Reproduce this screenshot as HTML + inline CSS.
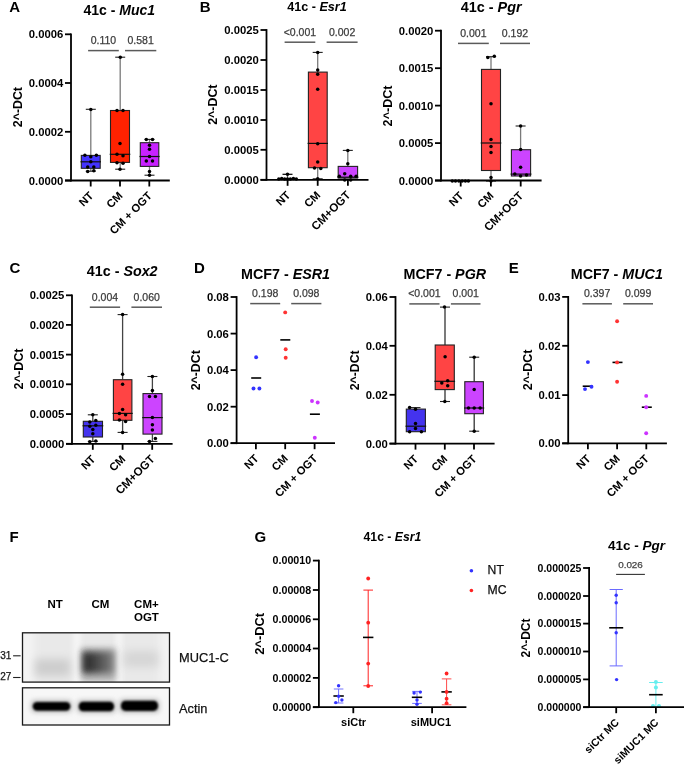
<!DOCTYPE html>
<html><head><meta charset="utf-8"><style>
html,body{margin:0;padding:0;background:#fff;}
body{width:685px;height:764px;overflow:hidden;}
svg{display:block;font-family:"Liberation Sans", sans-serif;filter:blur(0.4px);}
</style></head><body>
<svg width="685" height="764" viewBox="0 0 685 764">
<rect width="685" height="764" fill="#fff"/>
<text x="9.3" y="12.4" font-size="15" font-weight="bold" text-anchor="start" fill="#000">A</text>
<text x="199.8" y="11.8" font-size="15" font-weight="bold" text-anchor="start" fill="#000">B</text>
<text x="9.4" y="272.6" font-size="15" font-weight="bold" text-anchor="start" fill="#000">C</text>
<text x="194" y="272.5" font-size="15" font-weight="bold" text-anchor="start" fill="#000">D</text>
<text x="508.8" y="272.5" font-size="15" font-weight="bold" text-anchor="start" fill="#000">E</text>
<text x="9.4" y="541.8" font-size="15" font-weight="bold" text-anchor="start" fill="#000">F</text>
<text x="254.5" y="541.9" font-size="15" font-weight="bold" text-anchor="start" fill="#000">G</text>
<text x="119.3" y="14.7" font-size="14" font-weight="bold" text-anchor="middle" fill="#000">41c - <tspan font-style="italic">Muc1</tspan></text>
<text x="21.9" y="107.1" font-size="12.35" font-weight="bold" text-anchor="middle" fill="#000" transform="rotate(-90 21.9 107.1)">2^-DCt</text>
<line x1="71" y1="33.4" x2="71" y2="181.4" stroke="#000" stroke-width="1.8" stroke-linecap="butt"/>
<line x1="65" y1="34.3" x2="71" y2="34.3" stroke="#000" stroke-width="1.8" stroke-linecap="butt"/>
<text x="63.3" y="38.37" font-size="11.3" font-weight="bold" text-anchor="end" fill="#000">0.0006</text>
<line x1="65" y1="83" x2="71" y2="83" stroke="#000" stroke-width="1.8" stroke-linecap="butt"/>
<text x="63.3" y="87.07" font-size="11.3" font-weight="bold" text-anchor="end" fill="#000">0.0004</text>
<line x1="65" y1="131.8" x2="71" y2="131.8" stroke="#000" stroke-width="1.8" stroke-linecap="butt"/>
<text x="63.3" y="135.87" font-size="11.3" font-weight="bold" text-anchor="end" fill="#000">0.0002</text>
<line x1="65" y1="180.5" x2="71" y2="180.5" stroke="#000" stroke-width="1.8" stroke-linecap="butt"/>
<text x="63.3" y="184.57" font-size="11.3" font-weight="bold" text-anchor="end" fill="#000">0.0000</text>
<line x1="88.1" y1="50.6" x2="118.8" y2="50.6" stroke="#5a5a5a" stroke-width="1.5" stroke-linecap="butt"/>
<text x="103.45" y="44" font-size="10.5" font-weight="normal" text-anchor="middle" fill="#3c3c3c" stroke="#3c3c3c" stroke-width="0.25">0.110</text>
<line x1="125" y1="50.6" x2="156.3" y2="50.6" stroke="#5a5a5a" stroke-width="1.5" stroke-linecap="butt"/>
<text x="140.65" y="44" font-size="10.5" font-weight="normal" text-anchor="middle" fill="#3c3c3c" stroke="#3c3c3c" stroke-width="0.25">0.581</text>
<line x1="90.8" y1="109.3" x2="90.8" y2="155.4" stroke="#7a7a7a" stroke-width="1.3" stroke-linecap="butt"/>
<line x1="85.8" y1="109.3" x2="95.8" y2="109.3" stroke="#222" stroke-width="1.1" stroke-linecap="butt"/>
<line x1="90.8" y1="168.3" x2="90.8" y2="171.2" stroke="#7a7a7a" stroke-width="1.3" stroke-linecap="butt"/>
<line x1="85.8" y1="171.2" x2="95.8" y2="171.2" stroke="#222" stroke-width="1.1" stroke-linecap="butt"/>
<rect x="81.3" y="155.4" width="18.9" height="12.9" fill="#4433ff" stroke="#222" stroke-width="1.1"/>
<line x1="80.5" y1="161.8" x2="101" y2="161.8" stroke="#111" stroke-width="1.2" stroke-linecap="butt"/>
<circle cx="90.8" cy="109.5" r="1.75" fill="#000"/>
<circle cx="84.9" cy="155.2" r="1.75" fill="#000"/>
<circle cx="90.8" cy="156.8" r="1.75" fill="#000"/>
<circle cx="96.4" cy="155.2" r="1.75" fill="#000"/>
<circle cx="90.8" cy="161.8" r="1.75" fill="#000"/>
<circle cx="87.7" cy="167" r="1.75" fill="#000"/>
<circle cx="93.8" cy="167" r="1.75" fill="#000"/>
<circle cx="87.7" cy="171.6" r="1.75" fill="#000"/>
<circle cx="93.8" cy="170.7" r="1.75" fill="#000"/>
<line x1="120.2" y1="57.2" x2="120.2" y2="110.5" stroke="#7a7a7a" stroke-width="1.3" stroke-linecap="butt"/>
<line x1="115.2" y1="57.2" x2="125.2" y2="57.2" stroke="#222" stroke-width="1.1" stroke-linecap="butt"/>
<line x1="120.2" y1="162.4" x2="120.2" y2="169.2" stroke="#7a7a7a" stroke-width="1.3" stroke-linecap="butt"/>
<line x1="115.2" y1="169.2" x2="125.2" y2="169.2" stroke="#222" stroke-width="1.1" stroke-linecap="butt"/>
<rect x="110.5" y="110.5" width="19" height="51.9" fill="#ff2200" stroke="#222" stroke-width="1.1"/>
<line x1="109.7" y1="154.3" x2="130.3" y2="154.3" stroke="#111" stroke-width="1.2" stroke-linecap="butt"/>
<circle cx="120.3" cy="57.2" r="1.75" fill="#000"/>
<circle cx="117" cy="110.5" r="1.75" fill="#000"/>
<circle cx="123" cy="110.5" r="1.75" fill="#000"/>
<circle cx="120" cy="143.4" r="1.75" fill="#000"/>
<circle cx="117" cy="154.3" r="1.75" fill="#000"/>
<circle cx="123" cy="155.8" r="1.75" fill="#000"/>
<circle cx="117" cy="162.8" r="1.75" fill="#000"/>
<circle cx="123" cy="163.3" r="1.75" fill="#000"/>
<circle cx="120" cy="169.2" r="1.75" fill="#000"/>
<line x1="149.5" y1="139.4" x2="149.5" y2="142.7" stroke="#7a7a7a" stroke-width="1.3" stroke-linecap="butt"/>
<line x1="144.5" y1="139.4" x2="154.5" y2="139.4" stroke="#222" stroke-width="1.1" stroke-linecap="butt"/>
<line x1="149.5" y1="166.4" x2="149.5" y2="175.2" stroke="#7a7a7a" stroke-width="1.3" stroke-linecap="butt"/>
<line x1="144.5" y1="175.2" x2="154.5" y2="175.2" stroke="#222" stroke-width="1.1" stroke-linecap="butt"/>
<rect x="140.3" y="142.7" width="18.5" height="23.7" fill="#c822ff" stroke="#222" stroke-width="1.1"/>
<line x1="139.5" y1="156.5" x2="159.6" y2="156.5" stroke="#111" stroke-width="1.2" stroke-linecap="butt"/>
<circle cx="146.3" cy="139.4" r="1.75" fill="#000"/>
<circle cx="152.5" cy="139.4" r="1.75" fill="#000"/>
<circle cx="149.5" cy="145.3" r="1.75" fill="#000"/>
<circle cx="149.5" cy="149.3" r="1.75" fill="#000"/>
<circle cx="149.5" cy="156.5" r="1.75" fill="#000"/>
<circle cx="146.3" cy="161.1" r="1.75" fill="#000"/>
<circle cx="152.5" cy="161.1" r="1.75" fill="#000"/>
<circle cx="149.5" cy="171.6" r="1.75" fill="#000"/>
<circle cx="149.5" cy="175.2" r="1.75" fill="#000"/>
<line x1="65" y1="180.5" x2="169.8" y2="180.5" stroke="#000" stroke-width="1.8" stroke-linecap="butt"/>
<line x1="90.7" y1="180.5" x2="90.7" y2="186.5" stroke="#000" stroke-width="1.8" stroke-linecap="butt"/>
<text x="94.1" y="196.5" font-size="11.2" font-weight="bold" text-anchor="end" fill="#000" transform="rotate(-45 94.1 196.5)">NT</text>
<line x1="120" y1="180.5" x2="120" y2="186.5" stroke="#000" stroke-width="1.8" stroke-linecap="butt"/>
<text x="123.4" y="196.5" font-size="11.2" font-weight="bold" text-anchor="end" fill="#000" transform="rotate(-45 123.4 196.5)">CM</text>
<line x1="149.3" y1="180.5" x2="149.3" y2="186.5" stroke="#000" stroke-width="1.8" stroke-linecap="butt"/>
<text x="152.7" y="196.5" font-size="11.2" font-weight="bold" text-anchor="end" fill="#000" transform="rotate(-45 152.7 196.5)">CM + OGT</text>
<text x="317" y="10.5" font-size="12.6" font-weight="bold" text-anchor="middle" fill="#000">41c - <tspan font-style="italic">Esr1</tspan></text>
<text x="217.1" y="104.65" font-size="12.4" font-weight="bold" text-anchor="middle" fill="#000" transform="rotate(-90 217.1 104.65)">2^-DCt</text>
<line x1="266.5" y1="29.1" x2="266.5" y2="180.7" stroke="#000" stroke-width="1.8" stroke-linecap="butt"/>
<line x1="260.5" y1="30" x2="266.5" y2="30" stroke="#000" stroke-width="1.8" stroke-linecap="butt"/>
<text x="258.8" y="34.07" font-size="11.3" font-weight="bold" text-anchor="end" fill="#000">0.0025</text>
<line x1="260.5" y1="60" x2="266.5" y2="60" stroke="#000" stroke-width="1.8" stroke-linecap="butt"/>
<text x="258.8" y="64.07" font-size="11.3" font-weight="bold" text-anchor="end" fill="#000">0.0020</text>
<line x1="260.5" y1="90" x2="266.5" y2="90" stroke="#000" stroke-width="1.8" stroke-linecap="butt"/>
<text x="258.8" y="94.07" font-size="11.3" font-weight="bold" text-anchor="end" fill="#000">0.0015</text>
<line x1="260.5" y1="120" x2="266.5" y2="120" stroke="#000" stroke-width="1.8" stroke-linecap="butt"/>
<text x="258.8" y="124.07" font-size="11.3" font-weight="bold" text-anchor="end" fill="#000">0.0010</text>
<line x1="260.5" y1="149.8" x2="266.5" y2="149.8" stroke="#000" stroke-width="1.8" stroke-linecap="butt"/>
<text x="258.8" y="153.87" font-size="11.3" font-weight="bold" text-anchor="end" fill="#000">0.0005</text>
<line x1="260.5" y1="179.8" x2="266.5" y2="179.8" stroke="#000" stroke-width="1.8" stroke-linecap="butt"/>
<text x="258.8" y="183.87" font-size="11.3" font-weight="bold" text-anchor="end" fill="#000">0.0000</text>
<line x1="284.6" y1="42.2" x2="315.3" y2="42.2" stroke="#5a5a5a" stroke-width="1.5" stroke-linecap="butt"/>
<text x="299.95" y="35.6" font-size="10.5" font-weight="normal" text-anchor="middle" fill="#3c3c3c" stroke="#3c3c3c" stroke-width="0.25">&lt;0.001</text>
<line x1="326.6" y1="42.2" x2="357.6" y2="42.2" stroke="#5a5a5a" stroke-width="1.5" stroke-linecap="butt"/>
<text x="342.1" y="35.6" font-size="10.5" font-weight="normal" text-anchor="middle" fill="#3c3c3c" stroke="#3c3c3c" stroke-width="0.25">0.002</text>
<line x1="287.5" y1="174.3" x2="287.5" y2="179.8" stroke="#555" stroke-width="1.2" stroke-linecap="butt"/>
<line x1="282.5" y1="174.3" x2="292.5" y2="174.3" stroke="#000" stroke-width="1.2" stroke-linecap="butt"/>
<circle cx="287.5" cy="174.3" r="1.75" fill="#000"/>
<circle cx="278.8" cy="179" r="1.75" fill="#000"/>
<circle cx="281.7" cy="178.5" r="1.75" fill="#000"/>
<circle cx="284.6" cy="179" r="1.75" fill="#000"/>
<circle cx="287.5" cy="179" r="1.75" fill="#000"/>
<circle cx="290.4" cy="179" r="1.75" fill="#000"/>
<circle cx="293.4" cy="178.5" r="1.75" fill="#000"/>
<circle cx="296.3" cy="179" r="1.75" fill="#000"/>
<line x1="317.7" y1="52.4" x2="317.7" y2="72.1" stroke="#7a7a7a" stroke-width="1.3" stroke-linecap="butt"/>
<line x1="312.7" y1="52.4" x2="322.7" y2="52.4" stroke="#222" stroke-width="1.1" stroke-linecap="butt"/>
<line x1="317.7" y1="167.7" x2="317.7" y2="178.8" stroke="#7a7a7a" stroke-width="1.3" stroke-linecap="butt"/>
<line x1="312.7" y1="178.8" x2="322.7" y2="178.8" stroke="#222" stroke-width="1.1" stroke-linecap="butt"/>
<rect x="308.4" y="72.1" width="18.8" height="95.6" fill="#ff4444" stroke="#222" stroke-width="1.1"/>
<line x1="307.6" y1="143.4" x2="328" y2="143.4" stroke="#111" stroke-width="1.2" stroke-linecap="butt"/>
<circle cx="317.7" cy="52.4" r="1.75" fill="#000"/>
<circle cx="317.7" cy="69.9" r="1.75" fill="#000"/>
<circle cx="317.7" cy="74.3" r="1.75" fill="#000"/>
<circle cx="317.7" cy="89.2" r="1.75" fill="#000"/>
<circle cx="317.7" cy="143.8" r="1.75" fill="#000"/>
<circle cx="317.7" cy="162" r="1.75" fill="#000"/>
<circle cx="314.5" cy="167.9" r="1.75" fill="#000"/>
<circle cx="320.8" cy="168.6" r="1.75" fill="#000"/>
<circle cx="317.7" cy="178.8" r="1.75" fill="#000"/>
<line x1="347.8" y1="150.4" x2="347.8" y2="166.4" stroke="#7a7a7a" stroke-width="1.3" stroke-linecap="butt"/>
<line x1="342.8" y1="150.4" x2="352.8" y2="150.4" stroke="#222" stroke-width="1.1" stroke-linecap="butt"/>
<rect x="338.2" y="166.4" width="19.4" height="11.7" fill="#cc44ff" stroke="#222" stroke-width="1.1"/>
<line x1="337.4" y1="177.2" x2="358.4" y2="177.2" stroke="#111" stroke-width="1.2" stroke-linecap="butt"/>
<circle cx="347.8" cy="150.4" r="1.75" fill="#000"/>
<circle cx="347.8" cy="163.8" r="1.75" fill="#000"/>
<circle cx="344.7" cy="173.7" r="1.75" fill="#000"/>
<circle cx="339.3" cy="176.2" r="1.75" fill="#000"/>
<circle cx="350.7" cy="176.2" r="1.75" fill="#000"/>
<circle cx="356.1" cy="176.2" r="1.75" fill="#000"/>
<circle cx="344.7" cy="180.1" r="1.75" fill="#000"/>
<circle cx="350.7" cy="180.1" r="1.75" fill="#000"/>
<line x1="260.5" y1="179.8" x2="368.5" y2="179.8" stroke="#000" stroke-width="1.8" stroke-linecap="butt"/>
<line x1="287.6" y1="179.8" x2="287.6" y2="185.8" stroke="#000" stroke-width="1.8" stroke-linecap="butt"/>
<text x="291" y="195.8" font-size="11.2" font-weight="bold" text-anchor="end" fill="#000" transform="rotate(-45 291 195.8)">NT</text>
<line x1="317.7" y1="179.8" x2="317.7" y2="185.8" stroke="#000" stroke-width="1.8" stroke-linecap="butt"/>
<text x="321.1" y="195.8" font-size="11.2" font-weight="bold" text-anchor="end" fill="#000" transform="rotate(-45 321.1 195.8)">CM</text>
<line x1="347.9" y1="179.8" x2="347.9" y2="185.8" stroke="#000" stroke-width="1.8" stroke-linecap="butt"/>
<text x="351.3" y="195.8" font-size="11.6" font-weight="bold" text-anchor="end" fill="#000" transform="rotate(-45 351.3 195.8)">CM+OGT</text>
<text x="491.2" y="12.1" font-size="14.4" font-weight="bold" text-anchor="middle" fill="#000">41c - <tspan font-style="italic">Pgr</tspan></text>
<text x="391.6" y="105.9" font-size="12.6" font-weight="bold" text-anchor="middle" fill="#000" transform="rotate(-90 391.6 105.9)">2^-DCt</text>
<line x1="441" y1="29.8" x2="441" y2="181.4" stroke="#000" stroke-width="1.8" stroke-linecap="butt"/>
<line x1="435" y1="30.7" x2="441" y2="30.7" stroke="#000" stroke-width="1.8" stroke-linecap="butt"/>
<text x="433.3" y="34.77" font-size="11.3" font-weight="bold" text-anchor="end" fill="#000">0.0020</text>
<line x1="435" y1="68.2" x2="441" y2="68.2" stroke="#000" stroke-width="1.8" stroke-linecap="butt"/>
<text x="433.3" y="72.27" font-size="11.3" font-weight="bold" text-anchor="end" fill="#000">0.0015</text>
<line x1="435" y1="105.6" x2="441" y2="105.6" stroke="#000" stroke-width="1.8" stroke-linecap="butt"/>
<text x="433.3" y="109.67" font-size="11.3" font-weight="bold" text-anchor="end" fill="#000">0.0010</text>
<line x1="435" y1="143.1" x2="441" y2="143.1" stroke="#000" stroke-width="1.8" stroke-linecap="butt"/>
<text x="433.3" y="147.17" font-size="11.3" font-weight="bold" text-anchor="end" fill="#000">0.0005</text>
<line x1="435" y1="180.5" x2="441" y2="180.5" stroke="#000" stroke-width="1.8" stroke-linecap="butt"/>
<text x="433.3" y="184.57" font-size="11.3" font-weight="bold" text-anchor="end" fill="#000">0.0000</text>
<line x1="458" y1="43.4" x2="488.8" y2="43.4" stroke="#5a5a5a" stroke-width="1.5" stroke-linecap="butt"/>
<text x="473.4" y="36.8" font-size="10.5" font-weight="normal" text-anchor="middle" fill="#3c3c3c" stroke="#3c3c3c" stroke-width="0.25">0.001</text>
<line x1="500" y1="43.4" x2="530" y2="43.4" stroke="#5a5a5a" stroke-width="1.5" stroke-linecap="butt"/>
<text x="515" y="36.8" font-size="10.5" font-weight="normal" text-anchor="middle" fill="#3c3c3c" stroke="#3c3c3c" stroke-width="0.25">0.192</text>
<circle cx="452.3" cy="181" r="1.75" fill="#000"/>
<circle cx="455.5" cy="181" r="1.75" fill="#000"/>
<circle cx="458.9" cy="181" r="1.75" fill="#000"/>
<circle cx="462.2" cy="181" r="1.75" fill="#000"/>
<circle cx="465.4" cy="181" r="1.75" fill="#000"/>
<circle cx="468.4" cy="181" r="1.75" fill="#000"/>
<line x1="491" y1="56.7" x2="491" y2="69.4" stroke="#7a7a7a" stroke-width="1.3" stroke-linecap="butt"/>
<line x1="486" y1="56.7" x2="496" y2="56.7" stroke="#222" stroke-width="1.1" stroke-linecap="butt"/>
<line x1="491" y1="170.5" x2="491" y2="181" stroke="#7a7a7a" stroke-width="1.3" stroke-linecap="butt"/>
<line x1="486" y1="181" x2="496" y2="181" stroke="#222" stroke-width="1.1" stroke-linecap="butt"/>
<rect x="481.5" y="69.4" width="19" height="101.1" fill="#ff4444" stroke="#222" stroke-width="1.1"/>
<line x1="480.7" y1="143" x2="501.3" y2="143" stroke="#111" stroke-width="1.2" stroke-linecap="butt"/>
<circle cx="487.8" cy="57.4" r="1.75" fill="#000"/>
<circle cx="494.3" cy="56.2" r="1.75" fill="#000"/>
<circle cx="491" cy="103.7" r="1.75" fill="#000"/>
<circle cx="491" cy="139.5" r="1.75" fill="#000"/>
<circle cx="491" cy="146.4" r="1.75" fill="#000"/>
<circle cx="491" cy="152.5" r="1.75" fill="#000"/>
<circle cx="491" cy="177.5" r="1.75" fill="#000"/>
<circle cx="491" cy="181" r="1.75" fill="#000"/>
<line x1="520.6" y1="126" x2="520.6" y2="149.7" stroke="#7a7a7a" stroke-width="1.3" stroke-linecap="butt"/>
<line x1="515.6" y1="126" x2="525.6" y2="126" stroke="#222" stroke-width="1.1" stroke-linecap="butt"/>
<rect x="511.4" y="149.7" width="19.2" height="26.3" fill="#cc44ff" stroke="#222" stroke-width="1.1"/>
<line x1="510.6" y1="174.1" x2="531.4" y2="174.1" stroke="#111" stroke-width="1.2" stroke-linecap="butt"/>
<circle cx="520.6" cy="126" r="1.75" fill="#000"/>
<circle cx="520.6" cy="149.6" r="1.75" fill="#000"/>
<circle cx="520.6" cy="167.3" r="1.75" fill="#000"/>
<circle cx="514.8" cy="174.1" r="1.75" fill="#000"/>
<circle cx="520.6" cy="176" r="1.75" fill="#000"/>
<circle cx="526.5" cy="174.9" r="1.75" fill="#000"/>
<line x1="435" y1="180.5" x2="541.6" y2="180.5" stroke="#000" stroke-width="1.8" stroke-linecap="butt"/>
<line x1="460.7" y1="180.5" x2="460.7" y2="186.5" stroke="#000" stroke-width="1.8" stroke-linecap="butt"/>
<text x="464.1" y="196.5" font-size="11.2" font-weight="bold" text-anchor="end" fill="#000" transform="rotate(-45 464.1 196.5)">NT</text>
<line x1="490.9" y1="180.5" x2="490.9" y2="186.5" stroke="#000" stroke-width="1.8" stroke-linecap="butt"/>
<text x="494.3" y="196.5" font-size="11.2" font-weight="bold" text-anchor="end" fill="#000" transform="rotate(-45 494.3 196.5)">CM</text>
<line x1="520.7" y1="180.5" x2="520.7" y2="186.5" stroke="#000" stroke-width="1.8" stroke-linecap="butt"/>
<text x="524.1" y="196.5" font-size="11.6" font-weight="bold" text-anchor="end" fill="#000" transform="rotate(-45 524.1 196.5)">CM+OGT</text>
<text x="122.2" y="276" font-size="14.3" font-weight="bold" text-anchor="middle" fill="#000">41c - <tspan font-style="italic">Sox2</tspan></text>
<text x="23.4" y="368.9" font-size="12.6" font-weight="bold" text-anchor="middle" fill="#000" transform="rotate(-90 23.4 368.9)">2^-DCt</text>
<line x1="72" y1="294.4" x2="72" y2="444.7" stroke="#000" stroke-width="1.8" stroke-linecap="butt"/>
<line x1="66" y1="295.3" x2="72" y2="295.3" stroke="#000" stroke-width="1.8" stroke-linecap="butt"/>
<text x="64.3" y="299.37" font-size="11.3" font-weight="bold" text-anchor="end" fill="#000">0.0025</text>
<line x1="66" y1="324.9" x2="72" y2="324.9" stroke="#000" stroke-width="1.8" stroke-linecap="butt"/>
<text x="64.3" y="328.97" font-size="11.3" font-weight="bold" text-anchor="end" fill="#000">0.0020</text>
<line x1="66" y1="354.6" x2="72" y2="354.6" stroke="#000" stroke-width="1.8" stroke-linecap="butt"/>
<text x="64.3" y="358.67" font-size="11.3" font-weight="bold" text-anchor="end" fill="#000">0.0015</text>
<line x1="66" y1="384.3" x2="72" y2="384.3" stroke="#000" stroke-width="1.8" stroke-linecap="butt"/>
<text x="64.3" y="388.37" font-size="11.3" font-weight="bold" text-anchor="end" fill="#000">0.0010</text>
<line x1="66" y1="414.1" x2="72" y2="414.1" stroke="#000" stroke-width="1.8" stroke-linecap="butt"/>
<text x="64.3" y="418.17" font-size="11.3" font-weight="bold" text-anchor="end" fill="#000">0.0005</text>
<line x1="66" y1="443.8" x2="72" y2="443.8" stroke="#000" stroke-width="1.8" stroke-linecap="butt"/>
<text x="64.3" y="447.87" font-size="11.3" font-weight="bold" text-anchor="end" fill="#000">0.0000</text>
<line x1="89.8" y1="307.2" x2="120.1" y2="307.2" stroke="#5a5a5a" stroke-width="1.5" stroke-linecap="butt"/>
<text x="104.95" y="300.6" font-size="10.5" font-weight="normal" text-anchor="middle" fill="#3c3c3c" stroke="#3c3c3c" stroke-width="0.25">0.004</text>
<line x1="131.4" y1="307.2" x2="162" y2="307.2" stroke="#5a5a5a" stroke-width="1.5" stroke-linecap="butt"/>
<text x="146.7" y="300.6" font-size="10.5" font-weight="normal" text-anchor="middle" fill="#3c3c3c" stroke="#3c3c3c" stroke-width="0.25">0.060</text>
<line x1="92.8" y1="414.8" x2="92.8" y2="421.3" stroke="#444" stroke-width="1.3" stroke-linecap="butt"/>
<line x1="87.8" y1="414.8" x2="97.8" y2="414.8" stroke="#222" stroke-width="1.1" stroke-linecap="butt"/>
<line x1="92.8" y1="437" x2="92.8" y2="441.4" stroke="#444" stroke-width="1.3" stroke-linecap="butt"/>
<line x1="87.8" y1="441.4" x2="97.8" y2="441.4" stroke="#222" stroke-width="1.1" stroke-linecap="butt"/>
<rect x="83.3" y="421.3" width="19.2" height="15.7" fill="#4433ee" stroke="#222" stroke-width="1.1"/>
<line x1="82.5" y1="425.8" x2="103.3" y2="425.8" stroke="#111" stroke-width="1.2" stroke-linecap="butt"/>
<circle cx="92.8" cy="414.8" r="1.75" fill="#000"/>
<circle cx="89.8" cy="422" r="1.75" fill="#000"/>
<circle cx="95.8" cy="420.6" r="1.75" fill="#000"/>
<circle cx="89.8" cy="426.2" r="1.75" fill="#000"/>
<circle cx="95.8" cy="425.2" r="1.75" fill="#000"/>
<circle cx="92.8" cy="429.4" r="1.75" fill="#000"/>
<circle cx="92.8" cy="433.8" r="1.75" fill="#000"/>
<circle cx="89.8" cy="441.7" r="1.75" fill="#000"/>
<circle cx="95.8" cy="441" r="1.75" fill="#000"/>
<line x1="122.6" y1="314.6" x2="122.6" y2="379.7" stroke="#444" stroke-width="1.3" stroke-linecap="butt"/>
<line x1="117.6" y1="314.6" x2="127.6" y2="314.6" stroke="#222" stroke-width="1.1" stroke-linecap="butt"/>
<line x1="122.6" y1="420.3" x2="122.6" y2="432.4" stroke="#444" stroke-width="1.3" stroke-linecap="butt"/>
<line x1="117.6" y1="432.4" x2="127.6" y2="432.4" stroke="#222" stroke-width="1.1" stroke-linecap="butt"/>
<rect x="113.4" y="379.7" width="18.5" height="40.6" fill="#ff4444" stroke="#222" stroke-width="1.1"/>
<line x1="112.6" y1="413.4" x2="132.7" y2="413.4" stroke="#111" stroke-width="1.2" stroke-linecap="butt"/>
<circle cx="122.6" cy="314.6" r="1.75" fill="#000"/>
<circle cx="122.6" cy="374.2" r="1.75" fill="#000"/>
<circle cx="122.6" cy="384.3" r="1.75" fill="#000"/>
<circle cx="122.6" cy="409.5" r="1.75" fill="#000"/>
<circle cx="119.4" cy="413.4" r="1.75" fill="#000"/>
<circle cx="125.6" cy="414.7" r="1.75" fill="#000"/>
<circle cx="119.4" cy="419.9" r="1.75" fill="#000"/>
<circle cx="125.6" cy="421.6" r="1.75" fill="#000"/>
<circle cx="122.6" cy="432.4" r="1.75" fill="#000"/>
<line x1="152.4" y1="376.5" x2="152.4" y2="393.6" stroke="#444" stroke-width="1.3" stroke-linecap="butt"/>
<line x1="147.4" y1="376.5" x2="157.4" y2="376.5" stroke="#222" stroke-width="1.1" stroke-linecap="butt"/>
<line x1="152.4" y1="434.1" x2="152.4" y2="441.4" stroke="#444" stroke-width="1.3" stroke-linecap="butt"/>
<line x1="147.4" y1="441.4" x2="157.4" y2="441.4" stroke="#222" stroke-width="1.1" stroke-linecap="butt"/>
<rect x="143" y="393.6" width="19" height="40.5" fill="#cc44ff" stroke="#222" stroke-width="1.1"/>
<line x1="142.2" y1="417.6" x2="162.8" y2="417.6" stroke="#111" stroke-width="1.2" stroke-linecap="butt"/>
<circle cx="152.4" cy="376.5" r="1.75" fill="#000"/>
<circle cx="152.4" cy="390.4" r="1.75" fill="#000"/>
<circle cx="149.5" cy="396.4" r="1.75" fill="#000"/>
<circle cx="155.4" cy="396.6" r="1.75" fill="#000"/>
<circle cx="152.4" cy="417.6" r="1.75" fill="#000"/>
<circle cx="152.4" cy="424.8" r="1.75" fill="#000"/>
<circle cx="152.4" cy="430.1" r="1.75" fill="#000"/>
<circle cx="155.4" cy="438.4" r="1.75" fill="#000"/>
<circle cx="149.5" cy="441.4" r="1.75" fill="#000"/>
<line x1="66" y1="443.8" x2="172.6" y2="443.8" stroke="#000" stroke-width="1.8" stroke-linecap="butt"/>
<line x1="92.8" y1="443.8" x2="92.8" y2="449.8" stroke="#000" stroke-width="1.8" stroke-linecap="butt"/>
<text x="96.2" y="459.8" font-size="11.2" font-weight="bold" text-anchor="end" fill="#000" transform="rotate(-45 96.2 459.8)">NT</text>
<line x1="122.6" y1="443.8" x2="122.6" y2="449.8" stroke="#000" stroke-width="1.8" stroke-linecap="butt"/>
<text x="126" y="459.8" font-size="11.2" font-weight="bold" text-anchor="end" fill="#000" transform="rotate(-45 126 459.8)">CM</text>
<line x1="152.2" y1="443.8" x2="152.2" y2="449.8" stroke="#000" stroke-width="1.8" stroke-linecap="butt"/>
<text x="155.6" y="459.8" font-size="11.6" font-weight="bold" text-anchor="end" fill="#000" transform="rotate(-45 155.6 459.8)">CM+OGT</text>
<text x="285.6" y="278.5" font-size="14.3" font-weight="bold" text-anchor="middle" fill="#000">MCF7 - <tspan font-style="italic">ESR1</tspan></text>
<text x="199.9" y="370.3" font-size="12.35" font-weight="bold" text-anchor="middle" fill="#000" transform="rotate(-90 199.9 370.3)">2^-DCt</text>
<line x1="236.6" y1="296.1" x2="236.6" y2="444.1" stroke="#000" stroke-width="1.8" stroke-linecap="butt"/>
<line x1="230.6" y1="297" x2="236.6" y2="297" stroke="#000" stroke-width="1.8" stroke-linecap="butt"/>
<text x="228.9" y="301.07" font-size="11.3" font-weight="bold" text-anchor="end" fill="#000">0.08</text>
<line x1="230.6" y1="333.6" x2="236.6" y2="333.6" stroke="#000" stroke-width="1.8" stroke-linecap="butt"/>
<text x="228.9" y="337.67" font-size="11.3" font-weight="bold" text-anchor="end" fill="#000">0.06</text>
<line x1="230.6" y1="370.1" x2="236.6" y2="370.1" stroke="#000" stroke-width="1.8" stroke-linecap="butt"/>
<text x="228.9" y="374.17" font-size="11.3" font-weight="bold" text-anchor="end" fill="#000">0.04</text>
<line x1="230.6" y1="406.7" x2="236.6" y2="406.7" stroke="#000" stroke-width="1.8" stroke-linecap="butt"/>
<text x="228.9" y="410.77" font-size="11.3" font-weight="bold" text-anchor="end" fill="#000">0.02</text>
<line x1="230.6" y1="443.2" x2="236.6" y2="443.2" stroke="#000" stroke-width="1.8" stroke-linecap="butt"/>
<text x="228.9" y="447.27" font-size="11.3" font-weight="bold" text-anchor="end" fill="#000">0.00</text>
<line x1="250.2" y1="303.6" x2="280.2" y2="303.6" stroke="#5a5a5a" stroke-width="1.5" stroke-linecap="butt"/>
<text x="265.2" y="297" font-size="10.5" font-weight="normal" text-anchor="middle" fill="#3c3c3c" stroke="#3c3c3c" stroke-width="0.25">0.198</text>
<line x1="291.2" y1="303.6" x2="321.4" y2="303.6" stroke="#5a5a5a" stroke-width="1.5" stroke-linecap="butt"/>
<text x="306.3" y="297" font-size="10.5" font-weight="normal" text-anchor="middle" fill="#3c3c3c" stroke="#3c3c3c" stroke-width="0.25">0.098</text>
<line x1="251.2" y1="378" x2="261.2" y2="378" stroke="#000" stroke-width="1.6" stroke-linecap="butt"/>
<circle cx="256.1" cy="357.2" r="1.95" fill="#3333ff"/>
<circle cx="253.5" cy="388.5" r="1.95" fill="#3333ff"/>
<circle cx="259.4" cy="388.5" r="1.95" fill="#3333ff"/>
<line x1="280.3" y1="339.9" x2="290.3" y2="339.9" stroke="#000" stroke-width="1.6" stroke-linecap="butt"/>
<circle cx="285.2" cy="312.4" r="1.95" fill="#ff3333"/>
<circle cx="285.7" cy="349.3" r="1.95" fill="#ff3333"/>
<circle cx="285.7" cy="357.7" r="1.95" fill="#ff3333"/>
<line x1="309.9" y1="414.2" x2="319.9" y2="414.2" stroke="#000" stroke-width="1.6" stroke-linecap="butt"/>
<circle cx="312" cy="401" r="1.95" fill="#cc33ff"/>
<circle cx="317.7" cy="402.5" r="1.95" fill="#cc33ff"/>
<circle cx="314.8" cy="437.8" r="1.95" fill="#cc33ff"/>
<line x1="230.6" y1="443.2" x2="335" y2="443.2" stroke="#000" stroke-width="1.8" stroke-linecap="butt"/>
<line x1="255.9" y1="443.2" x2="255.9" y2="449.2" stroke="#000" stroke-width="1.8" stroke-linecap="butt"/>
<text x="259.3" y="459.2" font-size="11.2" font-weight="bold" text-anchor="end" fill="#000" transform="rotate(-45 259.3 459.2)">NT</text>
<line x1="285.2" y1="443.2" x2="285.2" y2="449.2" stroke="#000" stroke-width="1.8" stroke-linecap="butt"/>
<text x="288.6" y="459.2" font-size="11.2" font-weight="bold" text-anchor="end" fill="#000" transform="rotate(-45 288.6 459.2)">CM</text>
<line x1="314.6" y1="443.2" x2="314.6" y2="449.2" stroke="#000" stroke-width="1.8" stroke-linecap="butt"/>
<text x="318" y="459.2" font-size="11.2" font-weight="bold" text-anchor="end" fill="#000" transform="rotate(-45 318 459.2)">CM + OGT</text>
<text x="444.8" y="278.5" font-size="14.3" font-weight="bold" text-anchor="middle" fill="#000">MCF7 - <tspan font-style="italic">PGR</tspan></text>
<text x="359.3" y="370.3" font-size="12.3" font-weight="bold" text-anchor="middle" fill="#000" transform="rotate(-90 359.3 370.3)">2^-DCt</text>
<line x1="395.5" y1="296.1" x2="395.5" y2="444.5" stroke="#000" stroke-width="1.8" stroke-linecap="butt"/>
<line x1="389.5" y1="297" x2="395.5" y2="297" stroke="#000" stroke-width="1.8" stroke-linecap="butt"/>
<text x="387.8" y="301.07" font-size="11.3" font-weight="bold" text-anchor="end" fill="#000">0.06</text>
<line x1="389.5" y1="345.8" x2="395.5" y2="345.8" stroke="#000" stroke-width="1.8" stroke-linecap="butt"/>
<text x="387.8" y="349.87" font-size="11.3" font-weight="bold" text-anchor="end" fill="#000">0.04</text>
<line x1="389.5" y1="394.8" x2="395.5" y2="394.8" stroke="#000" stroke-width="1.8" stroke-linecap="butt"/>
<text x="387.8" y="398.87" font-size="11.3" font-weight="bold" text-anchor="end" fill="#000">0.02</text>
<line x1="389.5" y1="443.6" x2="395.5" y2="443.6" stroke="#000" stroke-width="1.8" stroke-linecap="butt"/>
<text x="387.8" y="447.67" font-size="11.3" font-weight="bold" text-anchor="end" fill="#000">0.00</text>
<line x1="409.3" y1="303.9" x2="439.5" y2="303.9" stroke="#5a5a5a" stroke-width="1.5" stroke-linecap="butt"/>
<text x="424.4" y="297.3" font-size="10.5" font-weight="normal" text-anchor="middle" fill="#3c3c3c" stroke="#3c3c3c" stroke-width="0.25">&lt;0.001</text>
<line x1="450.9" y1="303.9" x2="480.5" y2="303.9" stroke="#5a5a5a" stroke-width="1.5" stroke-linecap="butt"/>
<text x="465.7" y="297.3" font-size="10.5" font-weight="normal" text-anchor="middle" fill="#3c3c3c" stroke="#3c3c3c" stroke-width="0.25">0.001</text>
<line x1="415.5" y1="407.6" x2="415.5" y2="409.1" stroke="#333" stroke-width="1.3" stroke-linecap="butt"/>
<line x1="410.5" y1="407.6" x2="420.5" y2="407.6" stroke="#222" stroke-width="1.1" stroke-linecap="butt"/>
<rect x="406.3" y="409.1" width="19.1" height="22.6" fill="#4433ee" stroke="#222" stroke-width="1.1"/>
<line x1="405.5" y1="426.2" x2="426.2" y2="426.2" stroke="#111" stroke-width="1.2" stroke-linecap="butt"/>
<circle cx="409.6" cy="407.6" r="1.75" fill="#000"/>
<circle cx="415.5" cy="409.3" r="1.75" fill="#000"/>
<circle cx="415.5" cy="423.6" r="1.75" fill="#000"/>
<circle cx="415.5" cy="428.4" r="1.75" fill="#000"/>
<circle cx="409.6" cy="431.7" r="1.75" fill="#000"/>
<circle cx="421.4" cy="431.7" r="1.75" fill="#000"/>
<line x1="445" y1="307.1" x2="445" y2="345" stroke="#333" stroke-width="1.3" stroke-linecap="butt"/>
<line x1="440" y1="307.1" x2="450" y2="307.1" stroke="#222" stroke-width="1.1" stroke-linecap="butt"/>
<line x1="445" y1="389.6" x2="445" y2="401.5" stroke="#333" stroke-width="1.3" stroke-linecap="butt"/>
<line x1="440" y1="401.5" x2="450" y2="401.5" stroke="#222" stroke-width="1.1" stroke-linecap="butt"/>
<rect x="435.2" y="345" width="19.1" height="44.6" fill="#ff4444" stroke="#222" stroke-width="1.1"/>
<line x1="434.4" y1="381.3" x2="455.1" y2="381.3" stroke="#111" stroke-width="1.2" stroke-linecap="butt"/>
<circle cx="444.5" cy="307.1" r="1.75" fill="#000"/>
<circle cx="445.1" cy="356.8" r="1.75" fill="#000"/>
<circle cx="441.8" cy="383.1" r="1.75" fill="#000"/>
<circle cx="447.7" cy="380.7" r="1.75" fill="#000"/>
<circle cx="447.7" cy="385.7" r="1.75" fill="#000"/>
<circle cx="444.8" cy="401.5" r="1.75" fill="#000"/>
<line x1="474.2" y1="357.2" x2="474.2" y2="381.7" stroke="#333" stroke-width="1.3" stroke-linecap="butt"/>
<line x1="469.2" y1="357.2" x2="479.2" y2="357.2" stroke="#222" stroke-width="1.1" stroke-linecap="butt"/>
<line x1="474.2" y1="413.7" x2="474.2" y2="431.2" stroke="#333" stroke-width="1.3" stroke-linecap="butt"/>
<line x1="469.2" y1="431.2" x2="479.2" y2="431.2" stroke="#222" stroke-width="1.1" stroke-linecap="butt"/>
<rect x="464.8" y="381.7" width="18.6" height="32" fill="#cc44ff" stroke="#222" stroke-width="1.1"/>
<line x1="464" y1="408" x2="484.2" y2="408" stroke="#111" stroke-width="1.2" stroke-linecap="butt"/>
<circle cx="474.2" cy="357.2" r="1.75" fill="#000"/>
<circle cx="474.2" cy="389.6" r="1.75" fill="#000"/>
<circle cx="468.5" cy="408" r="1.75" fill="#000"/>
<circle cx="474.2" cy="408" r="1.75" fill="#000"/>
<circle cx="480.1" cy="408" r="1.75" fill="#000"/>
<circle cx="474.2" cy="431.2" r="1.75" fill="#000"/>
<line x1="389.5" y1="443.6" x2="494.6" y2="443.6" stroke="#000" stroke-width="1.8" stroke-linecap="butt"/>
<line x1="415.5" y1="443.6" x2="415.5" y2="449.6" stroke="#000" stroke-width="1.8" stroke-linecap="butt"/>
<text x="418.9" y="459.6" font-size="11.2" font-weight="bold" text-anchor="end" fill="#000" transform="rotate(-45 418.9 459.6)">NT</text>
<line x1="444.8" y1="443.6" x2="444.8" y2="449.6" stroke="#000" stroke-width="1.8" stroke-linecap="butt"/>
<text x="448.2" y="459.6" font-size="11.2" font-weight="bold" text-anchor="end" fill="#000" transform="rotate(-45 448.2 459.6)">CM</text>
<line x1="474" y1="443.6" x2="474" y2="449.6" stroke="#000" stroke-width="1.8" stroke-linecap="butt"/>
<text x="477.4" y="459.6" font-size="11.2" font-weight="bold" text-anchor="end" fill="#000" transform="rotate(-45 477.4 459.6)">CM + OGT</text>
<text x="616.8" y="278.8" font-size="14.3" font-weight="bold" text-anchor="middle" fill="#000">MCF7 - <tspan font-style="italic">MUC1</tspan></text>
<text x="531.6" y="369.9" font-size="12.45" font-weight="bold" text-anchor="middle" fill="#000" transform="rotate(-90 531.6 369.9)">2^-DCt</text>
<line x1="568.2" y1="296" x2="568.2" y2="444.2" stroke="#000" stroke-width="1.8" stroke-linecap="butt"/>
<line x1="562.2" y1="296.9" x2="568.2" y2="296.9" stroke="#000" stroke-width="1.8" stroke-linecap="butt"/>
<text x="560.5" y="300.97" font-size="11.3" font-weight="bold" text-anchor="end" fill="#000">0.03</text>
<line x1="562.2" y1="345.8" x2="568.2" y2="345.8" stroke="#000" stroke-width="1.8" stroke-linecap="butt"/>
<text x="560.5" y="349.87" font-size="11.3" font-weight="bold" text-anchor="end" fill="#000">0.02</text>
<line x1="562.2" y1="395.1" x2="568.2" y2="395.1" stroke="#000" stroke-width="1.8" stroke-linecap="butt"/>
<text x="560.5" y="399.17" font-size="11.3" font-weight="bold" text-anchor="end" fill="#000">0.01</text>
<line x1="562.2" y1="443.3" x2="568.2" y2="443.3" stroke="#000" stroke-width="1.8" stroke-linecap="butt"/>
<text x="560.5" y="447.37" font-size="11.3" font-weight="bold" text-anchor="end" fill="#000">0.00</text>
<line x1="582.4" y1="303.8" x2="611.9" y2="303.8" stroke="#5a5a5a" stroke-width="1.5" stroke-linecap="butt"/>
<text x="597.15" y="297.2" font-size="10.5" font-weight="normal" text-anchor="middle" fill="#3c3c3c" stroke="#3c3c3c" stroke-width="0.25">0.397</text>
<line x1="623.2" y1="303.8" x2="653" y2="303.8" stroke="#5a5a5a" stroke-width="1.5" stroke-linecap="butt"/>
<text x="638.1" y="297.2" font-size="10.5" font-weight="normal" text-anchor="middle" fill="#3c3c3c" stroke="#3c3c3c" stroke-width="0.25">0.099</text>
<line x1="582.7" y1="386.2" x2="592.7" y2="386.2" stroke="#000" stroke-width="1.6" stroke-linecap="butt"/>
<circle cx="587.9" cy="362.1" r="1.95" fill="#3333ff"/>
<circle cx="585" cy="389.1" r="1.95" fill="#3333ff"/>
<circle cx="591.5" cy="386.7" r="1.95" fill="#3333ff"/>
<line x1="612.5" y1="362.4" x2="622.5" y2="362.4" stroke="#000" stroke-width="1.6" stroke-linecap="butt"/>
<circle cx="617.1" cy="321.2" r="1.95" fill="#ff3333"/>
<circle cx="617.1" cy="362.4" r="1.95" fill="#ff3333"/>
<circle cx="617.1" cy="381.7" r="1.95" fill="#ff3333"/>
<line x1="641.8" y1="407.2" x2="651.8" y2="407.2" stroke="#000" stroke-width="1.6" stroke-linecap="butt"/>
<circle cx="646.2" cy="395.9" r="1.95" fill="#cc33ff"/>
<circle cx="646.2" cy="407.2" r="1.95" fill="#cc33ff"/>
<circle cx="646.2" cy="433.2" r="1.95" fill="#cc33ff"/>
<line x1="562.2" y1="443.3" x2="666.9" y2="443.3" stroke="#000" stroke-width="1.8" stroke-linecap="butt"/>
<line x1="587.9" y1="443.3" x2="587.9" y2="449.3" stroke="#000" stroke-width="1.8" stroke-linecap="butt"/>
<text x="591.3" y="459.3" font-size="11.2" font-weight="bold" text-anchor="end" fill="#000" transform="rotate(-45 591.3 459.3)">NT</text>
<line x1="617.1" y1="443.3" x2="617.1" y2="449.3" stroke="#000" stroke-width="1.8" stroke-linecap="butt"/>
<text x="620.5" y="459.3" font-size="11.2" font-weight="bold" text-anchor="end" fill="#000" transform="rotate(-45 620.5 459.3)">CM</text>
<line x1="646.3" y1="443.3" x2="646.3" y2="449.3" stroke="#000" stroke-width="1.8" stroke-linecap="butt"/>
<text x="649.7" y="459.3" font-size="11.2" font-weight="bold" text-anchor="end" fill="#000" transform="rotate(-45 649.7 459.3)">CM + OGT</text>
<text x="55.2" y="607.9" font-size="11.5" font-weight="bold" text-anchor="middle" fill="#000">NT</text>
<text x="100.5" y="607.9" font-size="11.5" font-weight="bold" text-anchor="middle" fill="#000">CM</text>
<text x="146.4" y="607.9" font-size="11.5" font-weight="bold" text-anchor="middle" fill="#000">CM+</text>
<text x="146.4" y="621.2" font-size="11.5" font-weight="bold" text-anchor="middle" fill="#000">OGT</text>
<defs>
<filter id="bl1" x="-50%" y="-50%" width="200%" height="200%"><feGaussianBlur stdDeviation="5"/></filter>
<filter id="bl2" x="-50%" y="-50%" width="200%" height="200%"><feGaussianBlur stdDeviation="3"/></filter>
<filter id="bl3" x="-50%" y="-50%" width="200%" height="200%"><feGaussianBlur stdDeviation="1.2"/></filter>
<clipPath id="c1"><rect x="22.5" y="633" width="147" height="49"/></clipPath>
<clipPath id="c2"><rect x="22.5" y="688" width="147" height="37"/></clipPath>
</defs>
<linearGradient id="cmg" x1="0" x2="1" y1="0" y2="0"><stop offset="0" stop-color="#262626"/><stop offset="0.45" stop-color="#464646"/><stop offset="1" stop-color="#808080"/></linearGradient>
<filter id="b4" x="-50%" y="-50%" width="200%" height="200%"><feGaussianBlur stdDeviation="4"/></filter>
<filter id="b25" x="-50%" y="-50%" width="200%" height="200%"><feGaussianBlur stdDeviation="2.5"/></filter>
<filter id="b3" x="-50%" y="-50%" width="200%" height="200%"><feGaussianBlur stdDeviation="3"/></filter>
<filter id="b08" x="-50%" y="-50%" width="200%" height="200%"><feGaussianBlur stdDeviation="0.8"/></filter>
<g clip-path="url(#c1)">
<rect x="22.5" y="633" width="147" height="49" fill="#e9e9e9" stroke="none" stroke-width="1"/>
<rect x="18" y="628" width="16" height="60" fill="#f4f4f4" filter="url(#b4)"/>
<rect x="73" y="628" width="8" height="60" fill="#f5f5f5" filter="url(#b25)"/>
<rect x="115.5" y="628" width="7" height="60" fill="#f5f5f5" filter="url(#b25)"/>
<rect x="160" y="628" width="14" height="60" fill="#f3f3f3" filter="url(#b4)"/>
<rect x="35" y="659" width="35" height="17" fill="#cdcdcd" filter="url(#b4)"/>
<rect x="124" y="651" width="34" height="16" fill="#d6d6d6" filter="url(#b4)"/>
<rect x="81.5" y="648" width="34" height="33" fill="#acacac" filter="url(#b3)"/>
<rect x="82.5" y="652" width="31" height="21" fill="url(#cmg)" filter="url(#b3)"/>
</g>
<rect x="22.5" y="632.8" width="147" height="49.3" fill="none" stroke="#1a1a1a" stroke-width="1.3"/>
<g clip-path="url(#c2)">
<rect x="22.5" y="688" width="147" height="37" fill="#f7f7f7" stroke="none" stroke-width="1"/>
<rect x="31.2" y="700.1" width="40.7" height="12.4" rx="4" fill="#bbb" filter="url(#b25)"/>
<rect x="32.7" y="701.9" width="37.7" height="8.8" rx="4.5" fill="#000" filter="url(#b08)"/>
<rect x="77.2" y="699.9" width="38.4" height="13.2" rx="4" fill="#bbb" filter="url(#b25)"/>
<rect x="78.7" y="701.7" width="35.4" height="9.6" rx="4.5" fill="#000" filter="url(#b08)"/>
<rect x="119.5" y="698.9" width="40" height="13.8" rx="4" fill="#bbb" filter="url(#b25)"/>
<rect x="121" y="700.7" width="37" height="10.2" rx="4.5" fill="#000" filter="url(#b08)"/>
</g>
<rect x="22.5" y="687.8" width="147" height="37.2" fill="none" stroke="#1a1a1a" stroke-width="1.3"/>
<text x="0.3" y="658.7" font-size="10" font-weight="normal" text-anchor="start" fill="#222" stroke="#111" stroke-width="0.25">31</text>
<line x1="13.1" y1="655.8" x2="20.6" y2="655.8" stroke="#222" stroke-width="1.1" stroke-linecap="butt"/>
<text x="0.3" y="680" font-size="10" font-weight="normal" text-anchor="start" fill="#222" stroke="#111" stroke-width="0.25">27</text>
<line x1="13.1" y1="677.5" x2="20.6" y2="677.5" stroke="#222" stroke-width="1.1" stroke-linecap="butt"/>
<text x="179" y="661.5" font-size="12.8" font-weight="normal" text-anchor="start" fill="#111" stroke="#111" stroke-width="0.25">MUC1-C</text>
<text x="179" y="712.8" font-size="12.8" font-weight="normal" text-anchor="start" fill="#111" stroke="#111" stroke-width="0.25">Actin</text>
<text x="392.4" y="541.4" font-size="12.2" font-weight="bold" text-anchor="middle" fill="#000">41c - <tspan font-style="italic">Esr1</tspan></text>
<text x="263.8" y="633.85" font-size="12.9" font-weight="bold" text-anchor="middle" fill="#000" transform="rotate(-90 263.8 633.85)">2^-DCt</text>
<line x1="318.9" y1="559.7" x2="318.9" y2="708.1" stroke="#000" stroke-width="1.8" stroke-linecap="butt"/>
<line x1="312.9" y1="560.6" x2="318.9" y2="560.6" stroke="#000" stroke-width="1.8" stroke-linecap="butt"/>
<text x="311.2" y="564.45" font-size="10.7" font-weight="bold" text-anchor="end" fill="#000">0.00010</text>
<line x1="312.9" y1="590" x2="318.9" y2="590" stroke="#000" stroke-width="1.8" stroke-linecap="butt"/>
<text x="311.2" y="593.85" font-size="10.7" font-weight="bold" text-anchor="end" fill="#000">0.00008</text>
<line x1="312.9" y1="619.3" x2="318.9" y2="619.3" stroke="#000" stroke-width="1.8" stroke-linecap="butt"/>
<text x="311.2" y="623.15" font-size="10.7" font-weight="bold" text-anchor="end" fill="#000">0.00006</text>
<line x1="312.9" y1="648.5" x2="318.9" y2="648.5" stroke="#000" stroke-width="1.8" stroke-linecap="butt"/>
<text x="311.2" y="652.35" font-size="10.7" font-weight="bold" text-anchor="end" fill="#000">0.00004</text>
<line x1="312.9" y1="677.9" x2="318.9" y2="677.9" stroke="#000" stroke-width="1.8" stroke-linecap="butt"/>
<text x="311.2" y="681.75" font-size="10.7" font-weight="bold" text-anchor="end" fill="#000">0.00002</text>
<line x1="312.9" y1="707.2" x2="318.9" y2="707.2" stroke="#000" stroke-width="1.8" stroke-linecap="butt"/>
<text x="311.2" y="711.05" font-size="10.7" font-weight="bold" text-anchor="end" fill="#000">0.00000</text>
<line x1="338.6" y1="689" x2="338.6" y2="703" stroke="#7272ff" stroke-width="1" stroke-linecap="butt"/>
<line x1="333.8" y1="689" x2="343.4" y2="689" stroke="#7272ff" stroke-width="1" stroke-linecap="butt"/>
<line x1="333.8" y1="703" x2="343.4" y2="703" stroke="#7272ff" stroke-width="1" stroke-linecap="butt"/>
<circle cx="338.6" cy="685.7" r="1.7" fill="#3333ff"/>
<circle cx="335.8" cy="702.6" r="1.7" fill="#3333ff"/>
<circle cx="341.9" cy="700" r="1.7" fill="#3333ff"/>
<line x1="333.4" y1="696" x2="343.8" y2="696" stroke="#000" stroke-width="1.6" stroke-linecap="butt"/>
<circle cx="338.6" cy="696.2" r="1.7" fill="#3333ff"/>
<line x1="368.2" y1="590.1" x2="368.2" y2="685.8" stroke="#ff2222" stroke-width="1" stroke-linecap="butt"/>
<line x1="363.4" y1="590.1" x2="373" y2="590.1" stroke="#ff2222" stroke-width="1" stroke-linecap="butt"/>
<line x1="363.4" y1="685.8" x2="373" y2="685.8" stroke="#ff2222" stroke-width="1" stroke-linecap="butt"/>
<circle cx="368.2" cy="578.5" r="1.9" fill="#ff2222"/>
<circle cx="368.2" cy="622.7" r="1.9" fill="#ff2222"/>
<circle cx="368.2" cy="663.6" r="1.9" fill="#ff2222"/>
<line x1="363" y1="637.4" x2="373.4" y2="637.4" stroke="#000" stroke-width="1.6" stroke-linecap="butt"/>
<circle cx="368.2" cy="686" r="1.9" fill="#ff2222"/>
<line x1="417" y1="691.4" x2="417" y2="703.4" stroke="#7272ff" stroke-width="1" stroke-linecap="butt"/>
<line x1="412.2" y1="691.4" x2="421.8" y2="691.4" stroke="#7272ff" stroke-width="1" stroke-linecap="butt"/>
<line x1="412.2" y1="703.4" x2="421.8" y2="703.4" stroke="#7272ff" stroke-width="1" stroke-linecap="butt"/>
<circle cx="414.1" cy="693" r="1.7" fill="#3333ff"/>
<circle cx="420.3" cy="692.1" r="1.7" fill="#3333ff"/>
<line x1="411.8" y1="697.3" x2="422.2" y2="697.3" stroke="#000" stroke-width="1.6" stroke-linecap="butt"/>
<circle cx="417" cy="700" r="1.7" fill="#3333ff"/>
<circle cx="417" cy="704.3" r="1.7" fill="#3333ff"/>
<line x1="446.6" y1="678.9" x2="446.6" y2="704.8" stroke="#ff4a4a" stroke-width="1" stroke-linecap="butt"/>
<line x1="441.8" y1="678.9" x2="451.4" y2="678.9" stroke="#ff4a4a" stroke-width="1" stroke-linecap="butt"/>
<line x1="441.8" y1="704.8" x2="451.4" y2="704.8" stroke="#ff4a4a" stroke-width="1" stroke-linecap="butt"/>
<circle cx="446.6" cy="673.5" r="1.9" fill="#ff2222"/>
<line x1="441.4" y1="691.9" x2="451.8" y2="691.9" stroke="#000" stroke-width="1.6" stroke-linecap="butt"/>
<circle cx="446.6" cy="691.9" r="1.9" fill="#ff2222"/>
<circle cx="446.6" cy="698.7" r="1.9" fill="#ff2222"/>
<circle cx="446.6" cy="703.2" r="1.9" fill="#ff2222"/>
<line x1="312.9" y1="707.2" x2="466.4" y2="707.2" stroke="#000" stroke-width="1.8" stroke-linecap="butt"/>
<line x1="353.3" y1="707.2" x2="353.3" y2="713.2" stroke="#000" stroke-width="1.8" stroke-linecap="butt"/>
<line x1="432.1" y1="707.2" x2="432.1" y2="713.2" stroke="#000" stroke-width="1.8" stroke-linecap="butt"/>
<text x="353.6" y="725.5" font-size="11" font-weight="bold" text-anchor="middle" fill="#000">siCtr</text>
<text x="430.9" y="725.5" font-size="11" font-weight="bold" text-anchor="middle" fill="#000">siMUC1</text>
<circle cx="471.4" cy="570.8" r="1.8" fill="#3333ff"/>
<circle cx="471.4" cy="590.5" r="1.8" fill="#ff2222"/>
<text x="487.6" y="574.4" font-size="12.2" font-weight="normal" text-anchor="start" fill="#111" stroke="#111" stroke-width="0.25">NT</text>
<text x="487.6" y="594.4" font-size="12.2" font-weight="normal" text-anchor="start" fill="#111" stroke="#111" stroke-width="0.25">MC</text>
<text x="636.4" y="549.6" font-size="13.5" font-weight="bold" text-anchor="middle" fill="#000">41c - <tspan font-style="italic">Pgr</tspan></text>
<text x="529.7" y="638" font-size="12" font-weight="bold" text-anchor="middle" fill="#000" transform="rotate(-90 529.7 638)">2^-DCt</text>
<line x1="589.1" y1="567.1" x2="589.1" y2="708.1" stroke="#000" stroke-width="1.8" stroke-linecap="butt"/>
<line x1="583.1" y1="568" x2="589.1" y2="568" stroke="#000" stroke-width="1.8" stroke-linecap="butt"/>
<text x="581.4" y="571.78" font-size="10.5" font-weight="bold" text-anchor="end" fill="#000">0.000025</text>
<line x1="583.1" y1="596" x2="589.1" y2="596" stroke="#000" stroke-width="1.8" stroke-linecap="butt"/>
<text x="581.4" y="599.78" font-size="10.5" font-weight="bold" text-anchor="end" fill="#000">0.000020</text>
<line x1="583.1" y1="623.6" x2="589.1" y2="623.6" stroke="#000" stroke-width="1.8" stroke-linecap="butt"/>
<text x="581.4" y="627.38" font-size="10.5" font-weight="bold" text-anchor="end" fill="#000">0.000015</text>
<line x1="583.1" y1="651.5" x2="589.1" y2="651.5" stroke="#000" stroke-width="1.8" stroke-linecap="butt"/>
<text x="581.4" y="655.28" font-size="10.5" font-weight="bold" text-anchor="end" fill="#000">0.000010</text>
<line x1="583.1" y1="679.4" x2="589.1" y2="679.4" stroke="#000" stroke-width="1.8" stroke-linecap="butt"/>
<text x="581.4" y="683.18" font-size="10.5" font-weight="bold" text-anchor="end" fill="#000">0.000005</text>
<line x1="583.1" y1="707.2" x2="589.1" y2="707.2" stroke="#000" stroke-width="1.8" stroke-linecap="butt"/>
<text x="581.4" y="710.98" font-size="10.5" font-weight="bold" text-anchor="end" fill="#000">0.000000</text>
<line x1="616.1" y1="574.4" x2="644.9" y2="574.4" stroke="#333" stroke-width="1.1" stroke-linecap="butt"/>
<text x="630.5" y="568.4" font-size="9.9" font-weight="normal" text-anchor="middle" fill="#444" stroke="#444" stroke-width="0.25">0.026</text>
<line x1="616.2" y1="589.5" x2="616.2" y2="665.9" stroke="#6a6aff" stroke-width="1" stroke-linecap="butt"/>
<line x1="609.6" y1="589.5" x2="622.8" y2="589.5" stroke="#6a6aff" stroke-width="1" stroke-linecap="butt"/>
<line x1="609.6" y1="665.9" x2="622.8" y2="665.9" stroke="#6a6aff" stroke-width="1" stroke-linecap="butt"/>
<circle cx="616.2" cy="595.3" r="1.7" fill="#3333ff"/>
<circle cx="616.2" cy="602.7" r="1.7" fill="#3333ff"/>
<circle cx="616.2" cy="632.8" r="1.7" fill="#3333ff"/>
<circle cx="616.6" cy="679.6" r="1.7" fill="#3333ff"/>
<line x1="609.2" y1="627.8" x2="623.2" y2="627.8" stroke="#000" stroke-width="1.6" stroke-linecap="butt"/>
<line x1="655.9" y1="682.5" x2="655.9" y2="707.2" stroke="#66eeee" stroke-width="1" stroke-linecap="butt"/>
<line x1="649.1" y1="682.5" x2="662.7" y2="682.5" stroke="#66eeee" stroke-width="1" stroke-linecap="butt"/>
<line x1="649.1" y1="707.2" x2="662.7" y2="707.2" stroke="#66eeee" stroke-width="1" stroke-linecap="butt"/>
<circle cx="655.9" cy="682" r="2" fill="#66eeee"/>
<circle cx="655.9" cy="687.4" r="2" fill="#66eeee"/>
<circle cx="653" cy="706" r="2" fill="#66eeee"/>
<circle cx="659" cy="706" r="2" fill="#66eeee"/>
<line x1="649.1" y1="694.7" x2="662.7" y2="694.7" stroke="#000" stroke-width="1.6" stroke-linecap="butt"/>
<line x1="583.1" y1="707.2" x2="684" y2="707.2" stroke="#000" stroke-width="1.8" stroke-linecap="butt"/>
<line x1="616.2" y1="707.2" x2="616.2" y2="713.2" stroke="#000" stroke-width="1.8" stroke-linecap="butt"/>
<text x="619.6" y="723.2" font-size="10.6" font-weight="bold" text-anchor="end" fill="#000" transform="rotate(-45 619.6 723.2)">siCtr MC</text>
<line x1="655.9" y1="707.2" x2="655.9" y2="713.2" stroke="#000" stroke-width="1.8" stroke-linecap="butt"/>
<text x="659.3" y="723.2" font-size="10.6" font-weight="bold" text-anchor="end" fill="#000" transform="rotate(-45 659.3 723.2)">siMUC1 MC</text>
</svg></body></html>
